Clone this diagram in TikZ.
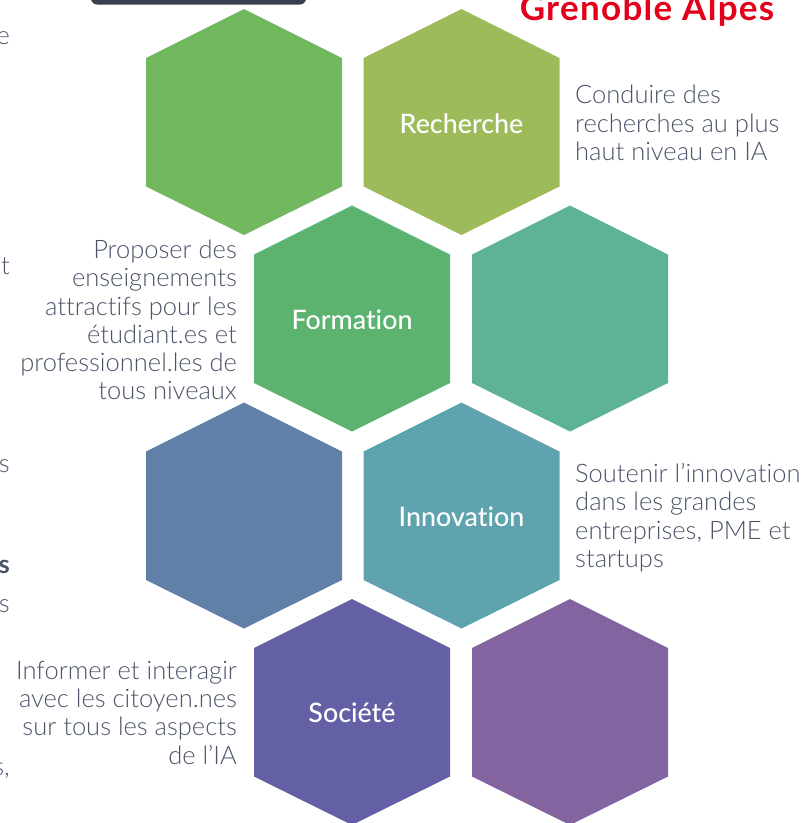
\documentclass[tikz,border=0pt]{standalone}
\usepackage{fontspec}
\setmainfont{Lato}[UprightFont=* Light,BoldFont=* Bold,Ligatures=NoCommon]
\newfontfamily\labelfont{Lato}[UprightFont=* Medium,Ligatures=NoCommon]
\newfontfamily\brandfont{Lato}[UprightFont=* Bold,LetterSpace=3.7,Ligatures=NoCommon]
\usetikzlibrary{calc}
\definecolor{inkc}{HTML}{4A5368}
\definecolor{redc}{HTML}{E2001A}
\definecolor{barc}{HTML}{36404F}
\definecolor{hA}{HTML}{72B85E}
\definecolor{hB}{HTML}{9DBB5B}
\definecolor{hC}{HTML}{5CB370}
\definecolor{hD}{HTML}{5EB396}
\definecolor{hE}{HTML}{6080A8}
\definecolor{hF}{HTML}{5FA3AF}
\definecolor{hG}{HTML}{6360A5}
\definecolor{hH}{HTML}{8265A0}
\tikzset{
  hexlabel/.style={text=white,font=\labelfont\fontsize{26.8}{30}\selectfont,inner sep=0pt},
  para/.style={text=inkc,font=\fontsize{25.5}{28.3}\selectfont,inner sep=0pt},
  paraR/.style={para,align=right,anchor=east},
  paraL/.style={para,align=left,anchor=west},
  frag/.style={para,anchor=east}
}
\newcommand{\hexa}[3]{%
  \fill[#3] ($(#1,#2)+(0,113)$) -- ($(#1,#2)+(98,64.5)$) -- ($(#1,#2)+(98,-64)$) -- ($(#1,#2)+(0,-113)$) -- ($(#1,#2)+(-98,-64)$) -- ($(#1,#2)+(-98,64.5)$) -- cycle;}
\begin{document}
\begin{tikzpicture}[x=1pt,y=-1pt]
\useasboundingbox (0,0) rectangle (802,823);
\clip (0,0) rectangle (802,823);
\hexa{244}{122}{hA}
\hexa{461.5}{122}{hB}
\hexa{352}{318.5}{hC}
\hexa{570}{318.5}{hD}
\hexa{244}{515.5}{hE}
\hexa{461.5}{515.5}{hF}
\hexa{352}{712}{hG}
\hexa{570}{712}{hH}
\fill[barc,rounded corners=6pt] (91,-12) rectangle (306,4.5);
\node[hexlabel] (rech) at (461.5,123.5) {Recherche};
\node[hexlabel] (form) at (352,320) {Formation};
\node[hexlabel] (inno) at (461.5,516.5) {Innovation};
\node[hexlabel] (soci) at (352,713) {Société};
\node[paraL] (t1) at (575,123) {Conduire des\\recherches au plus\\haut niveau en IA};
\node[paraR] (t2) at (237,320) {Proposer des\\enseignements\\attractifs pour les\\étudiant.es et\\professionnel.les de\\tous niveaux};
\node[paraL] (t3) at (575,517.5) {Soutenir l’innovation\\dans les grandes\\entreprises, PME et\\startups};
\node[paraR] (t4) at (237,712.5) {Informer et interagir\\avec les citoyen.nes\\sur tous les aspects\\de l’IA};
\node[text=redc,font=\brandfont\fontsize{35}{35}\selectfont,anchor=base,inner sep=0pt] (ga) at (647,20) {Grenoble Alpes};
\node[frag] (f1) at (10,38) {e};
\node[frag] (f2) at (10,266) {t};
\node[frag] (f3) at (10,466) {s};
\node[frag,font=\bfseries\fontsize{25.5}{28.3}\selectfont] (f4) at (10,567) {s};
\node[frag] (f5) at (10,606) {s};
\node[frag] (f6) at (10,771) {s,};
\end{tikzpicture}
\end{document}
